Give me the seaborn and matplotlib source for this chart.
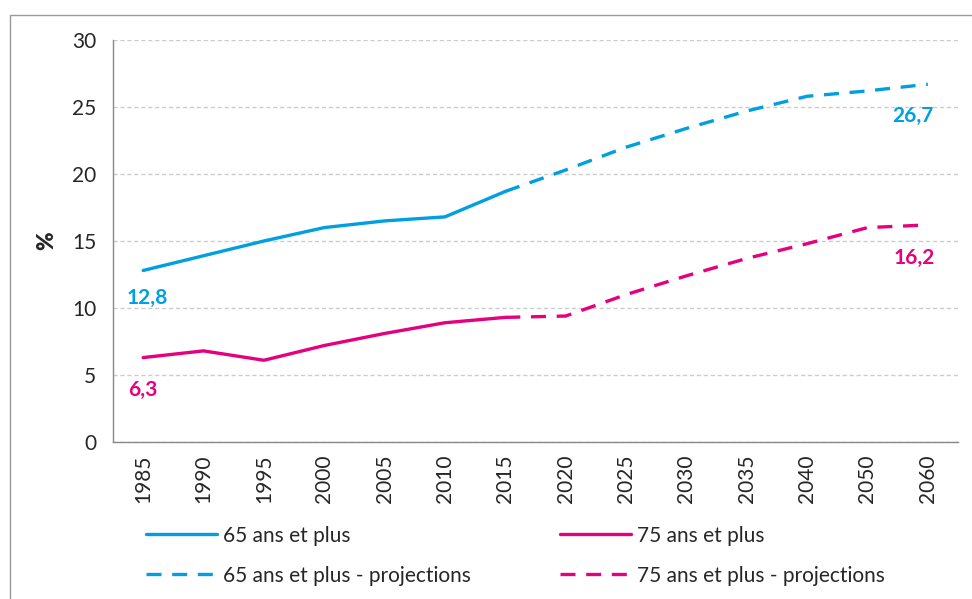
import pandas as pd
import matplotlib.pyplot as plt
import matplotlib.patches as mpatches
import seaborn as sns
import numpy as np

years = ['1985', '1990', '1995', '2000', '2005', '2010', '2015',
         '2020', '2025', '2030', '2035', '2040', '2050', '2060']
obs_years = years[:7]
proj_years = years[6:]

p65_obs = [12.8, 13.9, 15.0, 16.0, 16.5, 16.8, 18.7]
p65_proj = [18.7, 20.3, 22.0, 23.4, 24.7, 25.8, 26.2, 26.7]
p75_obs = [6.3, 6.8, 6.1, 7.2, 8.1, 8.9, 9.3]
p75_proj = [9.3, 9.4, 11.0, 12.4, 13.7, 14.8, 16.0, 16.2]

labels = ['65 ans et plus', '65 ans et plus - projections',
          '75 ans et plus', '75 ans et plus - projections']

blue = '#009FE0'
pink = '#E5007D'

sns.set_style('white')
plt.rcParams['font.family'] = ['Lato', 'DejaVu Sans']
fs = 15

pos = {y: i for i, y in enumerate(years)}

fig = plt.figure(figsize=(9.72, 5.99), dpi=100)
ax = fig.add_axes([113/972, 1-442/599, (958-113)/972, (442-40)/599])

series = [(obs_years, p65_obs, blue, '-', labels[0]),
          (proj_years, p65_proj, blue, '--', labels[1]),
          (obs_years, p75_obs, pink, '-', labels[2]),
          (proj_years, p75_proj, pink, '--', labels[3])]

handles = {}
for yrs, vals, col, ls, lab in series:
    df = pd.DataFrame({'x': [pos[y] for y in yrs], 'v': vals})
    sns.lineplot(data=df, x='x', y='v', color=col, linewidth=2.4, ax=ax,
                 label=lab, legend=False)
    line = ax.lines[-1]
    if ls == '--':
        line.set_dashes((4.5, 3.2))
    handles[lab] = line

ax.set_xlim(-0.5, len(years) - 0.5)
ax.set_ylim(0, 30)
ax.set_yticks(range(0, 31, 5))
ax.set_xticks(range(len(years)))
ax.set_xticklabels(years, rotation=90)
ax.set_xticks(np.arange(-0.5, len(years), 1), minor=True)
ax.tick_params(axis='x', which='major', length=0, pad=9, labelsize=fs)
ax.tick_params(axis='x', which='minor', length=6, color='#888888', width=1)
ax.tick_params(axis='y', length=6, color='#888888', width=1, labelsize=fs, pad=6)
ax.grid(axis='y', linestyle=(0, (3, 2)), color='#cccccc', linewidth=1)
ax.set_axisbelow(True)
for s in ['top', 'right']:
    ax.spines[s].set_visible(False)
for s in ['left', 'bottom']:
    ax.spines[s].set_color('#888888')
    ax.spines[s].set_linewidth(1)

ax.set_xlabel('')
ax.set_ylabel('%', fontsize=16, fontweight='heavy', labelpad=11)

def lbl(v):
    return f'{v:.1f}'.replace('.', ',')

ax.annotate(lbl(p65_obs[0]), (0, p65_obs[0]), xytext=(3, -20), textcoords='offset points',
            ha='center', va='center', color=blue, fontsize=fs, fontweight='bold')
ax.annotate(lbl(p75_obs[0]), (0, p75_obs[0]), xytext=(0, -23), textcoords='offset points',
            ha='center', va='center', color=pink, fontsize=fs, fontweight='bold')
ax.annotate(lbl(p65_proj[-1]), (len(years) - 1, p65_proj[-1]), xytext=(-11, -23),
            textcoords='offset points', ha='center', va='center', color=blue,
            fontsize=fs, fontweight='bold')
ax.annotate(lbl(p75_proj[-1]), (len(years) - 1, p75_proj[-1]), xytext=(-10, -24),
            textcoords='offset points', ha='center', va='center', color=pink,
            fontsize=fs, fontweight='bold')

fig.legend([handles[l] for l in labels], labels, ncol=2, loc='upper left',
           bbox_to_anchor=(127/972, 1-507/599), frameon=False, fontsize=fs,
           handlelength=3.4, handletextpad=0.3, columnspacing=4.3, labelspacing=0.95)

fig.patches.append(mpatches.Rectangle((10/972, -0.05), 1.2, 1-15/599+0.05,
                                      transform=fig.transFigure, fill=False,
                                      edgecolor='#999999', linewidth=1))

fig.savefig('out.png', dpi=100)
